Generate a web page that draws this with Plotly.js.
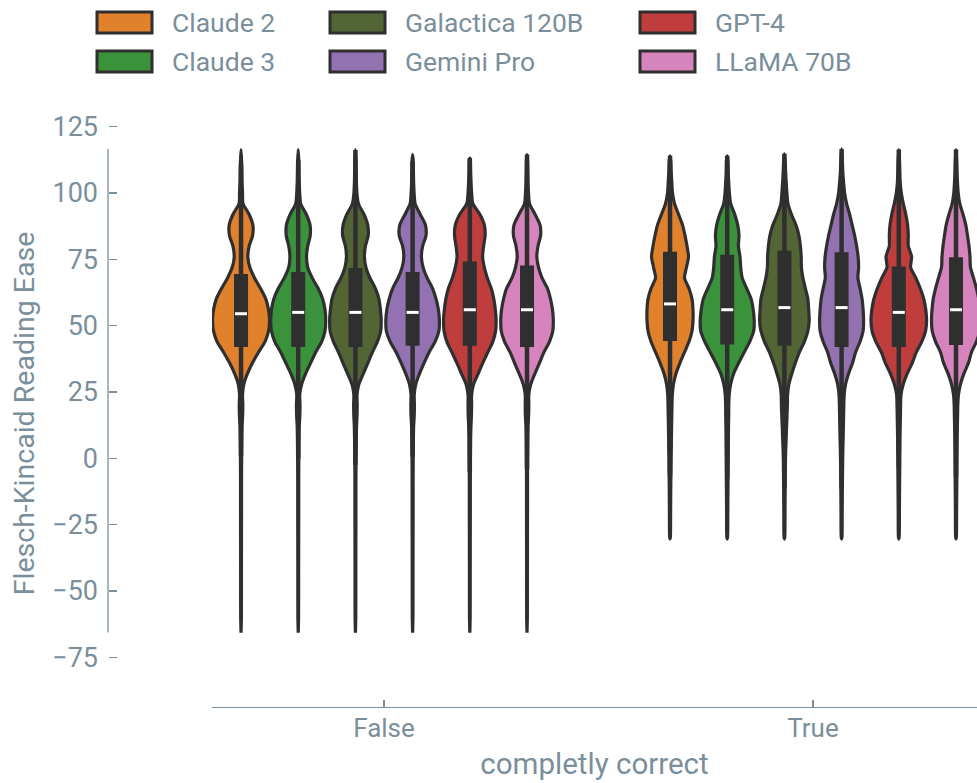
<!DOCTYPE html>
<html><head><meta charset="utf-8">
<script src="https://cdn.plot.ly/plotly-3.0.1.min.js"></script>
<style>html,body{margin:0;padding:0;background:#fff}#chart{width:977px;height:783px}</style>
</head><body><div id="chart"></div>
<script>
// ---------------- DATA ----------------
const categories = ['False', 'True'];
const models = ['Claude 2', 'Claude 3', 'Galactica 120B', 'Gemini Pro', 'GPT-4', 'LLaMA 70B'];
const yTickVals = [-75, -50, -25, 0, 25, 50, 75, 100, 125];

// kernel density profile (relative half-width) on a common grid of reading-ease values
const densityY = [112,108,104,100,96,92,88,84,80,76,72,68,64,60,56,52,48,44,40,36,32,28,24,20,16,12,8,4,0,-10,-20,-30,-45,-60];

const densFalseClaude2   = [0.6,0.8,1.0,1.5,2.0,8,11.8,11.6,8.1,6.8,8.8,13.5,19.5,24.8,27.5,28.5,27.5,24,17.5,11.5,6.5,2.8,1.5,1.8,1.6,1.0,0.8,0.7,0.6,0.5,0.5,0.45,0.4,0.35];
const densFalseClaude3   = [0.6,0.8,1.0,1.5,2.5,8,11.8,12.0,9.5,8.3,9.5,14,20,24.5,26.8,27.5,26.8,23.5,17.5,12.5,7.5,3.5,1.5,1.8,1.6,1.0,0.8,0.7,0.6,0.5,0.5,0.45,0.4,0.35];
const densFalseGalactica = [0.6,0.8,1.0,1.5,3,8.5,12.3,12.8,10,9,10.5,14.5,20,23.5,25,25.8,25.3,22,17,12.5,8,3.5,1.6,1.8,1.6,1.1,0.9,0.7,0.6,0.5,0.5,0.45,0.4,0.35];
const densFalseGemini    = [0.6,0.8,1.0,1.5,2.5,7.5,12.8,13.4,10,8.8,10.5,14.5,20,23.5,25.8,26.8,26.3,22.5,16.5,11.5,7,3.2,1.6,1.8,1.6,1.0,0.8,0.7,0.6,0.5,0.5,0.45,0.4,0.35];
const densFalseGPT4      = [0.6,0.8,1.2,1.8,3,10,14.5,15.3,13.8,12.8,14.5,17.5,21.5,24,25.5,26.3,25.8,23,18,13,8.5,3.8,1.8,1.8,1.6,1.1,0.8,0.7,0.6,0.5,0.5,0.45,0.4,0.35];
const densFalseLLaMA     = [0.6,0.8,1.0,1.5,2.5,8,13.0,13.6,11,9.8,11.5,15,20.5,23.5,25.5,26.3,25.8,22.5,17,12.5,8,3.8,1.8,1.8,1.6,1.0,0.8,0.7,0.6,0.5,0.5,0.45,0.4,0.35];

const densTrueClaude2    = [0.8,1.2,1.8,2.5,4.5,8.5,12.5,15,17,18.5,16.5,14.5,19,22,23,23,22,19,14.5,10,6,3.5,2.3,2.0,1.8,1.6,1.4,1.3,1.1,0.8,0.6,0.3,0,0];
const densTrueClaude3    = [0.8,1.0,1.5,2.2,3.5,7.5,10.5,11.8,11.2,12.8,13.5,15,19.5,24,26,27,26.5,22.5,17,11.5,6.5,3.5,2.0,1.6,1.5,1.3,1.2,1.1,1.0,0.8,0.6,0.3,0,0];
const densTrueGalactica  = [0.8,1.2,1.8,2.5,3.5,7,11.5,14.5,16,16.8,17,18.5,21,23.5,24.3,24.8,23.5,20,15,11,7.5,4.5,3.2,3.0,2.6,2.2,1.8,1.4,1.1,0.8,0.6,0.3,0,0];
const densTrueGemini     = [0.8,1.2,2,3,5,8,10.5,13,15,16.5,17,16.3,18.5,20.5,21.5,22,21.5,18.5,14,11,7,4,2.6,2.2,2,1.8,1.6,1.3,1.1,0.8,0.6,0.3,0,0];
const densTrueGPT4       = [0.7,1.0,1.4,2.5,4.5,7,8.8,9.5,9.5,12.8,11.8,17,21.5,25,27,27.8,26.8,23,17.5,13.5,8.5,4.5,2.2,1.8,1.6,1.4,1.2,1.1,1.0,0.8,0.6,0.3,0,0];
const densTrueLLaMA      = [0.7,1.0,1.5,2.2,3.8,7,9.8,11.5,13,14,14.5,17.5,20.5,22.8,24,24.5,23.8,20.5,15.5,12.5,8,4.5,2.5,1.8,1.6,1.4,1.2,1.1,1.0,0.8,0.6,0.3,0,0];

const maxFalse    = [116.4, 116.4, 116.4, 114.5, 113.2, 114.5];
const minFalse    = [-65.7, -65.7, -65.7, -65.7, -65.7, -65.7];
const q1False     = [42.0, 42.0, 42.0, 42.4, 42.4, 42.0];
const medianFalse = [54.5, 55.0, 55.0, 55.0, 56.0, 56.0];
const q3False     = [69.5, 70.2, 71.7, 70.2, 74.2, 72.7];

const maxTrue     = [114.0, 114.0, 114.8, 116.6, 116.4, 116.4];
const minTrue     = [-30.2, -30.2, -30.2, -30.2, -30.2, -30.2];
const q1True      = [44.2, 42.9, 42.4, 42.0, 42.0, 42.7];
const medianTrue  = [58.2, 56.0, 56.8, 56.8, 55.0, 56.0];
const q3True      = [77.9, 76.7, 78.2, 77.7, 72.3, 75.8];

// ---------------- STYLE ----------------
const colors = ['#e1812c', '#3a923a', '#536535', '#9372b2', '#c03d3e', '#d684bd'];
const edge = '#2f2f2f';
const txt = '#7a8f9b';
const FONT = 'Roboto, "Noto Sans", sans-serif';

const W = 977, H = 783;
const M = {l: 108, r: 0, t: 120, b: 76};
const plotW = W - M.l - M.r, plotH = H - M.t - M.b;
const xDomain = [(212 - M.l) / plotW, 1];
const xRange = [-0.401, 1.3823];
const yRange = [-93.74, 127.52];

const groupWidth = 0.8;
const nH = models.length;
const slot = groupWidth / nH;
const DENS_FULL = 28.6;   // density value that spans half a slot

const dens = {
  False: [densFalseClaude2, densFalseClaude3, densFalseGalactica, densFalseGemini, densFalseGPT4, densFalseLLaMA],
  True:  [densTrueClaude2, densTrueClaude3, densTrueGalactica, densTrueGemini, densTrueGPT4, densTrueLLaMA]
};
const stats = {
  False: {mx: maxFalse, mn: minFalse, q1: q1False, med: medianFalse, q3: q3False},
  True:  {mx: maxTrue,  mn: minTrue,  q1: q1True,  med: medianTrue,  q3: q3True}
};

const traces = [];
const boxTraces = [];
categories.forEach((cat, g) => {
  const st = stats[cat];
  models.forEach((m, h) => {
    const cx = g + (h - (nH - 1) / 2) * slot;
    const d = dens[cat][h];
    const ys = [st.mx[h]], ds = [0];
    densityY.forEach((y, i) => { if (y < st.mx[h] && y > st.mn[h]) { ys.push(y); ds.push(d[i]); } });
    ys.push(st.mn[h]); ds.push(0);
    const hw = ds.map(v => v / DENS_FULL * slot / 2);
    const px = [], py = [];
    for (let i = 0; i < ys.length; i++) { px.push(cx + hw[i]); py.push(ys[i]); }
    for (let i = ys.length - 1; i >= 0; i--) { px.push(cx - hw[i]); py.push(ys[i]); }
    traces.push({
      type: 'scatter', mode: 'lines', x: px, y: py, fill: 'toself', fillcolor: colors[h],
      line: {color: edge, width: 3.2, shape: 'spline', smoothing: 0.7},
      showlegend: false, hoverinfo: 'skip', name: m
    });
    const iqr = st.q3[h] - st.q1[h];
    const lo = Math.max(st.mn[h], st.q1[h] - 1.5 * iqr);
    const hi = Math.min(st.mx[h], st.q3[h] + 1.5 * iqr);
    boxTraces.push({type: 'scatter', mode: 'lines', x: [cx, cx], y: [lo, hi],
      line: {color: edge, width: 4.5}, showlegend: false, hoverinfo: 'skip'});
    boxTraces.push({type: 'scatter', mode: 'lines', x: [cx, cx], y: [st.q1[h], st.q3[h]],
      line: {color: edge, width: 14}, showlegend: false, hoverinfo: 'skip'});
    const mw = slot * 0.105;
    boxTraces.push({type: 'scatter', mode: 'lines', x: [cx - mw, cx + mw], y: [st.med[h], st.med[h]],
      line: {color: '#ffffff', width: 3}, showlegend: false, hoverinfo: 'skip'});
  });
});

// ---------------- custom legend (matplotlib-like patches) ----------------
const px2x = p => (p - M.l) / plotW;
const py2y = p => 1 - (p - M.t) / plotH;
const legColX = [97, 330, 640];
const legRowY = [22.5, 61.5];
const shapes = [];
const annotations = [];
models.forEach((m, i) => {
  const c = Math.floor(i / 2), r = i % 2;
  const x0 = legColX[c], yc = legRowY[r];
  shapes.push({type: 'rect', xref: 'paper', yref: 'paper',
    x0: px2x(x0), x1: px2x(x0 + 55), y0: py2y(yc + 10.5), y1: py2y(yc - 10.5),
    fillcolor: colors[i], line: {color: edge, width: 3}, layer: 'above'});
  annotations.push({xref: 'paper', yref: 'paper', x: px2x(x0 + 73), y: py2y(yc),
    xanchor: 'left', yanchor: 'middle', text: m, showarrow: false,
    font: {family: FONT, size: 26.5, color: txt}});
});

// trimmed y spine from data min to data max
const allMin = Math.min(...minFalse, ...minTrue);
const allMax = Math.max(...maxFalse, ...maxTrue);
shapes.push({type: 'line', xref: 'paper', yref: 'y', x0: 0, x1: 0, y0: allMin, y1: allMax,
  line: {color: txt, width: 1.3}});

const layout = {
  width: W, height: H,
  margin: M,
  paper_bgcolor: '#ffffff', plot_bgcolor: '#ffffff',
  font: {family: FONT, color: txt, size: 26},
  showlegend: false,
  xaxis: {
    domain: xDomain, range: xRange, tickvals: [0, 1], ticktext: categories,
    ticks: 'inside', ticklen: 7, tickwidth: 1.3, tickcolor: txt,
    showline: true, linecolor: txt, linewidth: 1.3, showgrid: false, zeroline: false,
    ticklabelstandoff: -3,
    tickfont: {family: FONT, size: 26, color: txt},
    title: {text: 'completly correct', font: {family: FONT, size: 29.5, color: txt}, standoff: 11}
  },
  yaxis: {
    range: yRange, anchor: 'free', position: 0, tickvals: yTickVals,
    ticks: 'inside', ticklen: 8, tickwidth: 1.3, tickcolor: txt,
    showline: false, showgrid: false, zeroline: false,
    ticklabelstandoff: 10,
    tickfont: {family: FONT, size: 27, color: txt},
    title: {text: 'Flesch-Kincaid Reading Ease', font: {family: FONT, size: 28.5, color: txt}, standoff: 8}
  },
  shapes: shapes,
  annotations: annotations
};

Plotly.newPlot('chart', traces.concat(boxTraces), layout, {displayModeBar: false, staticPlot: true});
</script></body></html>
